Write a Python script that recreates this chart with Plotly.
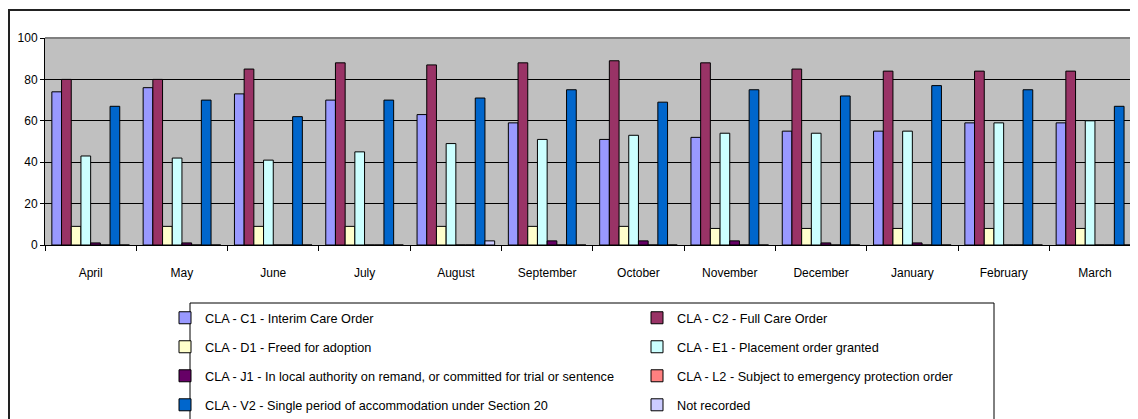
import plotly.graph_objects as go

months = ["April", "May", "June", "July", "August", "September", "October",
          "November", "December", "January", "February", "March"]

c1 = [74, 76, 73, 70, 63, 59, 51, 52, 55, 55, 59, 59]
c2 = [80, 80, 85, 88, 87, 88, 89, 88, 85, 84, 84, 84]
d1 = [9, 9, 9, 9, 9, 9, 9, 8, 8, 8, 8, 8]
e1 = [43, 42, 41, 45, 49, 51, 53, 54, 54, 55, 59, 60]
j1 = [1, 1, 0, 0, 0, 2, 2, 2, 1, 1, 0, 0]
l2 = [0, 0, 0, 0, 0, 0, 0, 0, 0, 0, 0, 0]
v2 = [67, 70, 62, 70, 71, 75, 69, 75, 72, 77, 75, 67]
not_recorded = [0, 0, 0, 0, 2, 0, 0, 0, 0, 0, 0, 0]

series = [
    ("CLA - C1 - Interim Care Order", c1, "#9999FF", "legend"),
    ("CLA - C2 - Full Care Order", c2, "#993366", "legend2"),
    ("CLA - D1 - Freed for adoption", d1, "#FFFFCC", "legend"),
    ("CLA - E1 - Placement order granted", e1, "#CCFFFF", "legend2"),
    ("CLA - J1 - In local authority on remand, or committed for trial or sentence", j1, "#660066", "legend"),
    ("CLA - L2 - Subject to emergency protection order", l2, "#FF8080", "legend2"),
    ("CLA - V2 - Single period of accommodation under Section 20", v2, "#0066CC", "legend"),
    ("Not recorded", not_recorded, "#CCCCFF", "legend2"),
]

FONT = "Liberation Sans, Arial, sans-serif"

# page body adds an 8px margin; figure coordinates are screen - 8
W, H = 1130, 411
L, T, B = 37, 30, 174
PW = W - L
PH = H - T - B


def px_x(p):
    return (p - L) / PW


def px_y(p):
    return (H - B - p) / PH


fig = go.Figure()
for i, (name, vals, color, leg) in enumerate(series):
    fig.add_trace(go.Bar(
        x=months, y=vals, name=name,
        marker=dict(color=color, line=dict(color="#000000", width=1)),
        legend=leg, legendgroup="g%d" % i,
    ))

cat_w = 91.3
span = PW / cat_w

fig.update_layout(
    width=W, height=H,
    margin=dict(l=L, r=0, t=T, b=B, autoexpand=False),
    paper_bgcolor="white",
    plot_bgcolor="#C0C0C0",
    barmode="group", bargap=0.15, bargroupgap=0,
    font=dict(family=FONT, size=12, color="#000000"),
    xaxis=dict(
        type="category", range=[-0.5, -0.5 + span],
        tickson="boundaries", ticks="outside", ticklen=5, tickcolor="#000000",
        showline=True, linecolor="#000000", linewidth=1,
        showgrid=False, zeroline=False,
        ticklabelstandoff=17,
        tickfont=dict(family=FONT, size=12),
    ),
    yaxis=dict(
        range=[0, 100], tickvals=[0, 20, 40, 60, 80, 100],
        ticks="outside", ticklen=4, tickcolor="#000000",
        showline=True, linecolor="#000000", linewidth=1,
        showgrid=True, gridcolor="#000000", gridwidth=1,
        zeroline=False, tickfont=dict(family=FONT, size=12),
    ),
    legend=dict(
        x=px_x(157), y=px_y(295), xanchor="left", yanchor="top",
        orientation="v", tracegroupgap=9.5, bgcolor="rgba(0,0,0,0)",
        font=dict(family=FONT, size=12.7), borderwidth=0,
    ),
    legend2=dict(
        x=px_x(629), y=px_y(295), xanchor="left", yanchor="top",
        orientation="v", tracegroupgap=9.5, bgcolor="rgba(0,0,0,0)",
        font=dict(family=FONT, size=12.7), borderwidth=0,
    ),
    showlegend=True,
    shapes=[
        dict(type="line", xref="paper", yref="paper", x0=0, x1=1, y0=1, y1=1,
             line=dict(color="#808080", width=2), layer="above"),
        dict(type="rect", xref="paper", yref="paper",
             x0=px_x(1), x1=px_x(1160), y0=px_y(440), y1=px_y(2),
             line=dict(color="#222222", width=2), layer="below"),
        dict(type="rect", xref="paper", yref="paper",
             x0=px_x(182), x1=px_x(986), y0=px_y(440), y1=px_y(295),
             line=dict(color="#000000", width=1), layer="below"),
    ],
)

fig.write_html("out.html")
